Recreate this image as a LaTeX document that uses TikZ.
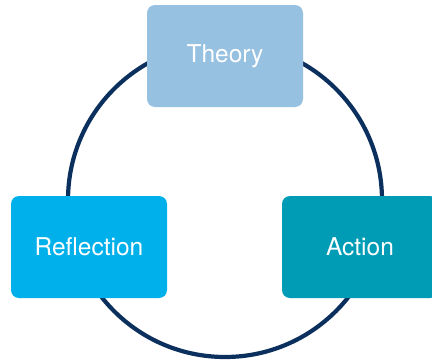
\documentclass[tikz,border=0pt]{standalone}
\usepackage{fontspec}
\setmainfont{TeX Gyre Heros}
\usetikzlibrary{positioning}
\definecolor{ringblue}{RGB}{12,48,94}
\definecolor{theoryblue}{RGB}{151,193,225}
\definecolor{reflectblue}{RGB}{0,176,235}
\definecolor{actionteal}{RGB}{0,155,181}

\begin{document}
\begin{tikzpicture}[x=1pt,y=1pt,node distance=115pt,
    stage/.style={rectangle, rounded corners=8pt, minimum width=156pt, minimum height=102pt,
        inner sep=0pt, outer sep=0pt, text=white, font=\fontsize{24.5}{28}\selectfont},
    ring/.style={circle, draw=ringblue, line width=4.2pt, minimum size=314pt, inner sep=0pt}]
                \useasboundingbox (0,0) rectangle (432,-362);
                % the cycle sits behind the three stages
                \node[ring] (cycle) at (225,-200) {};

                \node[stage, fill=theoryblue] (theory) at (225,-56) {Theory};
                \node[stage, fill=reflectblue] (reflection) at (89,-247) {Reflection};
                \node[stage, fill=actionteal] (action) [right=of reflection] {Action};
            \end{tikzpicture}
\end{document}
